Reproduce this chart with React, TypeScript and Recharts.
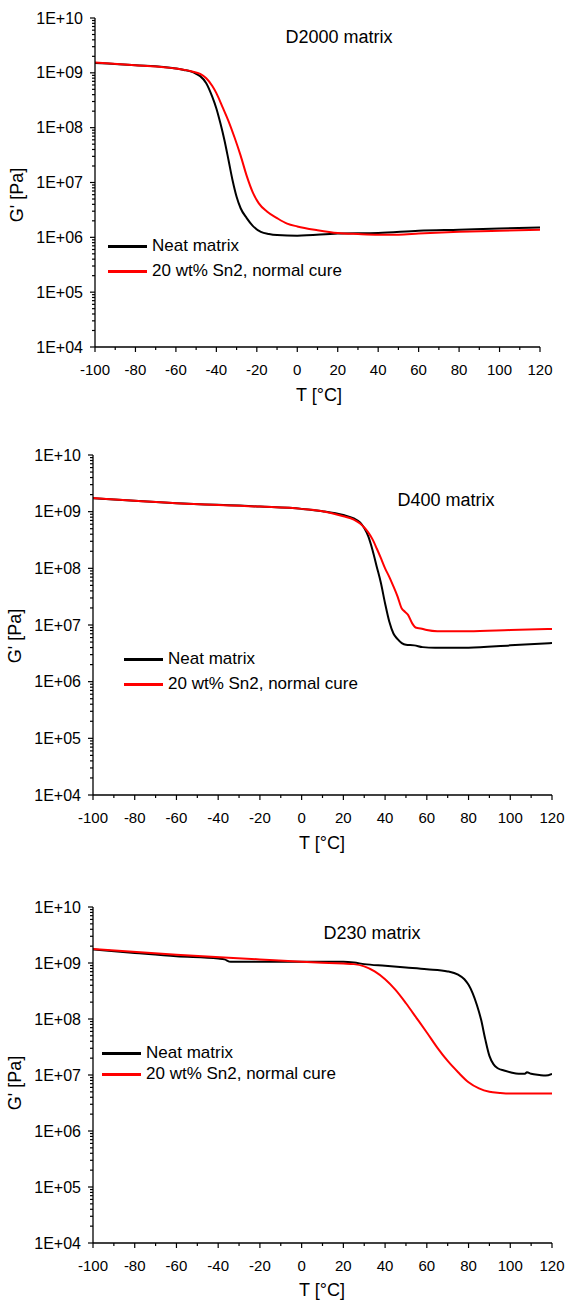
import { Legend, Line, LineChart, XAxis, YAxis } from 'recharts';

const FONT = '"Liberation Sans", Arial, sans-serif';

// axis ticks
const xMajorTicks = [-100, -80, -60, -40, -20, 0, 20, 40, 60, 80, 100, 120];
const xMinorTicks = [-90, -70, -50, -30, -10, 10, 30, 50, 70, 90, 110];
const yMajorTicks = [1e4, 1e5, 1e6, 1e7, 1e8, 1e9, 1e10];
const yMinorSteps = [2, 3, 4, 5, 6, 7, 8, 9];

const seriesNames = ['Neat matrix', '20 wt% Sn2, normal cure'];
const seriesColors = ['#000000', '#ff0000'];
const panelTitles = ['D2000 matrix', 'D400 matrix', 'D230 matrix'];

// D2000 matrix
const d2000NeatT = [-100, -80, -60, -56, -52, -50, -48, -45, -42, -40, -38, -36, -34, -32, -30, -28, -25, -22, -18, -14, -10, 0, 20, 40, 60, 80, 100, 120];
const d2000NeatG = [1.51e9, 1.38e9, 1.2e9, 1.13e9, 1.04e9, 9.6e8, 8.71e8, 6.46e8, 3.63e8, 2.24e8, 1.2e8, 5.89e7, 2.57e7, 1.1e7, 5.5e6, 3.39e6, 2.24e6, 1.62e6, 1.26e6, 1.15e6, 1.1e6, 1.07e6, 1.17e6, 1.2e6, 1.32e6, 1.38e6, 1.45e6, 1.51e6];
const d2000SnT = [-100, -80, -60, -55, -52, -48, -45, -42, -40, -37, -34, -31, -28, -25, -22, -19, -15, -10, -5, 0, 10, 20, 30, 40, 50, 60, 80, 100, 120];
const d2000SnG = [1.55e9, 1.38e9, 1.2e9, 1.12e9, 1.06e9, 9.55e8, 7.94e8, 5.75e8, 4.27e8, 2.4e8, 1.32e8, 6.61e7, 3.09e7, 1.32e7, 6.61e6, 4.17e6, 2.95e6, 2.24e6, 1.78e6, 1.58e6, 1.35e6, 1.2e6, 1.15e6, 1.12e6, 1.12e6, 1.17e6, 1.26e6, 1.32e6, 1.38e6];

// D400 matrix
const d400NeatT = [-100, -60, -20, 0, 10, 20, 25, 28, 30, 32, 34, 36, 38, 40, 42, 44, 46, 48, 50, 54, 58, 64, 80, 100, 120];
const d400NeatG = [1.72e9, 1.41e9, 1.23e9, 1.12e9, 1.02e9, 8.71e8, 7.59e8, 6.46e8, 5.13e8, 3.63e8, 2.09e8, 1.07e8, 5.5e7, 2.4e7, 1.15e7, 7.08e6, 5.62e6, 4.79e6, 4.47e6, 4.37e6, 4.07e6, 3.98e6, 3.98e6, 4.37e6, 4.79e6];
const d400SnT = [-100, -60, -20, 0, 10, 20, 25, 28, 30, 32, 34, 36, 38, 40, 42, 44, 46, 48, 49, 51, 53, 55, 57, 60, 65, 80, 100, 120];
const d400SnG = [1.74e9, 1.41e9, 1.23e9, 1.12e9, 1.02e9, 8.32e8, 7.24e8, 6.17e8, 5.25e8, 4.27e8, 3.24e8, 2.24e8, 1.51e8, 1.0e8, 7.08e7, 4.79e7, 3.16e7, 1.95e7, 1.78e7, 1.51e7, 1.07e7, 8.91e6, 8.71e6, 8.13e6, 7.76e6, 7.76e6, 8.13e6, 8.51e6];

// D230 matrix
const d230NeatT = [-100, -80, -60, -40, -37, -34, -20, 0, 20, 25, 30, 40, 50, 60, 70, 75, 78, 80, 82, 84, 86, 88, 90, 92, 94, 97, 100, 104, 107, 108, 110, 114, 117, 120];
const d230NeatG = [1.74e9, 1.51e9, 1.32e9, 1.2e9, 1.16e9, 1.05e9, 1.05e9, 1.05e9, 1.05e9, 1.02e9, 9.55e8, 8.91e8, 8.32e8, 7.76e8, 7.08e8, 6.17e8, 5.13e8, 4.07e8, 2.88e8, 1.78e8, 9.77e7, 4.37e7, 2.19e7, 1.55e7, 1.32e7, 1.2e7, 1.12e7, 1.05e7, 1.05e7, 1.12e7, 1.05e7, 1.0e7, 9.77e6, 1.05e7];
const d230SnT = [-100, -60, -20, 0, 20, 25, 30, 35, 40, 45, 50, 55, 60, 65, 70, 75, 80, 85, 90, 95, 100, 120];
const d230SnG = [1.78e9, 1.41e9, 1.16e9, 1.05e9, 9.77e8, 9.55e8, 8.71e8, 7.08e8, 5.13e8, 3.31e8, 1.91e8, 1.05e8, 5.75e7, 3.09e7, 1.78e7, 1.12e7, 7.41e6, 5.75e6, 5.01e6, 4.79e6, 4.68e6, 4.68e6];

const toPoints = (t: number[], g: number[]) => t.map((temp, i) => ({ t: temp, g: g[i] }));

const yMinorTicks = yMajorTicks.slice(0, -1).flatMap((d) => yMinorSteps.map((s) => s * d));
const yAllTicks = [...yMajorTicks, ...yMinorTicks].sort((a, b) => a - b);
const xAllTicks = [...xMajorTicks, ...xMinorTicks].sort((a, b) => a - b);

const formatExp = (v: number) => {
  const e = Math.round(Math.log10(v));
  return `1E+${String(e).padStart(2, '0')}`;
};

const XTick = ({ x, y, payload }: any) => {
  const major = xMajorTicks.includes(payload.value);
  return (
    <g>
      <line x1={x} x2={x} y1={y} y2={y + (major ? 5 : 3)} stroke='#000' strokeWidth={1.2} />
      {major && (
        <text x={x} y={y + 23} dy='0.35em' textAnchor='middle' fontSize={15} fontFamily={FONT} fill='#000'>
          {payload.value}
        </text>
      )}
    </g>
  );
};

const YTick = ({ x, y, payload }: any) => {
  const major = yMajorTicks.includes(payload.value);
  return (
    <g>
      <line x1={x - (major ? 5 : 3)} x2={x} y1={y} y2={y} stroke='#000' strokeWidth={1.2} />
      {major && (
        <text x={x - 12} y={y} dy='0.35em' textAnchor='end' fontSize={16} fontFamily={FONT} fill='#000'>
          {formatExp(payload.value)}
        </text>
      )}
    </g>
  );
};

const makeLegend = (rowGap: number) => ({ payload }: any) => {
  const items = [...(payload ?? [])].sort(
    (a: any, b: any) => seriesNames.indexOf(a.value) - seriesNames.indexOf(b.value),
  );
  return (
    <div style={{ fontFamily: FONT, fontSize: 17, color: '#000' }}>
      {items.map((item: any) => (
        <div key={item.value} style={{ display: 'flex', alignItems: 'center', height: rowGap, whiteSpace: 'nowrap' }}>
          <span style={{ display: 'inline-block', width: 39, borderTop: `3px solid ${item.color}`, marginRight: 5 }} />
          <span>{item.value}</span>
        </div>
      ))}
    </div>
  );
};

interface PanelProps {
  top: number;
  height: number;
  plotTop: number;
  plotBottom: number;
  plotLeft: number;
  plotRight: number;
  title: string;
  titleX: number;
  titleY: number;
  xTitleX: number;
  xTitleY: number;
  yTitleX: number;
  yTitleY: number;
  legendX: number;
  legendY: number;
  rowGap: number;
  neat: { t: number; g: number }[];
  sn2: { t: number; g: number }[];
}

const Panel = (p: PanelProps) => (
  <div style={{ position: 'absolute', left: 0, top: p.top, width: 569, height: p.height }}>
    <LineChart
      width={569}
      height={p.height}
      margin={{ top: p.plotTop, right: 569 - p.plotRight, bottom: 0, left: 0 }}
    >
      <XAxis
        dataKey='t'
        type='number'
        domain={[-100, 120]}
        allowDataOverflow
        ticks={xAllTicks}
        interval={0}
        height={p.height - p.plotBottom}
        tickSize={0}
        tickMargin={0}
        tickLine={false}
        tick={<XTick />}
        axisLine={{ stroke: '#000', strokeWidth: 1.3 }}
      />
      <YAxis
        type='number'
        scale='log'
        domain={[1e4, 1e10]}
        allowDataOverflow
        ticks={yAllTicks}
        interval={0}
        width={p.plotLeft}
        tickSize={0}
        tickMargin={0}
        tickLine={false}
        tick={<YTick />}
        axisLine={{ stroke: '#000', strokeWidth: 1.3 }}
      />
      <Legend
        layout='vertical'
        align='center'
        verticalAlign='middle'
        content={makeLegend(p.rowGap)}
        wrapperStyle={{ left: p.legendX, top: p.legendY - p.rowGap / 2, width: 'auto' }}
      />
      <Line
        data={p.neat}
        dataKey='g'
        name={seriesNames[0]}
        type='monotone'
        stroke={seriesColors[0]}
        strokeWidth={2}
        dot={false}
        isAnimationActive={false}
      />
      <Line
        data={p.sn2}
        dataKey='g'
        name={seriesNames[1]}
        type='monotone'
        stroke={seriesColors[1]}
        strokeWidth={2}
        dot={false}
        isAnimationActive={false}
      />
      <text x={p.titleX} y={p.titleY} dy='0.35em' textAnchor='middle' fontSize={18} fontFamily={FONT} fill='#000'>
        {p.title}
      </text>
      <text x={p.xTitleX} y={p.xTitleY} dy='0.35em' textAnchor='middle' fontSize={18} fontFamily={FONT} fill='#000'>
        T [°C]
      </text>
      <text
        x={p.yTitleX}
        y={p.yTitleY}
        dy='0.35em'
        textAnchor='middle'
        fontSize={18}
        fontFamily={FONT}
        fill='#000'
        transform={`rotate(-90 ${p.yTitleX} ${p.yTitleY})`}
      >
        G' [Pa]
      </text>
    </LineChart>
  </div>
);

export default function App() {
  return (
    <div style={{ position: 'absolute', left: 0, top: 0, width: 569, height: 1300, background: '#fff' }}>
      <Panel
        top={0}
        height={440}
        plotTop={18}
        plotBottom={347}
        plotLeft={95}
        plotRight={540}
        title={panelTitles[0]}
        titleX={339}
        titleY={37}
        xTitleX={319}
        xTitleY={395}
        yTitleX={17}
        yTitleY={195}
        legendX={108}
        legendY={246}
        rowGap={25}
        neat={toPoints(d2000NeatT, d2000NeatG)}
        sn2={toPoints(d2000SnT, d2000SnG)}
      />
      <Panel
        top={440}
        height={450}
        plotTop={15}
        plotBottom={355}
        plotLeft={93}
        plotRight={552}
        title={panelTitles[1]}
        titleX={446}
        titleY={60}
        xTitleX={322}
        xTitleY={403}
        yTitleX={15}
        yTitleY={196}
        legendX={124}
        legendY={219}
        rowGap={25}
        neat={toPoints(d400NeatT, d400NeatG)}
        sn2={toPoints(d400SnT, d400SnG)}
      />
      <Panel
        top={890}
        height={410}
        plotTop={17}
        plotBottom={353}
        plotLeft={93}
        plotRight={552}
        title={panelTitles[2]}
        titleX={372}
        titleY={43}
        xTitleX={322}
        xTitleY={400}
        yTitleX={15}
        yTitleY={193}
        legendX={102}
        legendY={163}
        rowGap={21}
        neat={toPoints(d230NeatT, d230NeatG)}
        sn2={toPoints(d230SnT, d230SnG)}
      />
    </div>
  );
}
